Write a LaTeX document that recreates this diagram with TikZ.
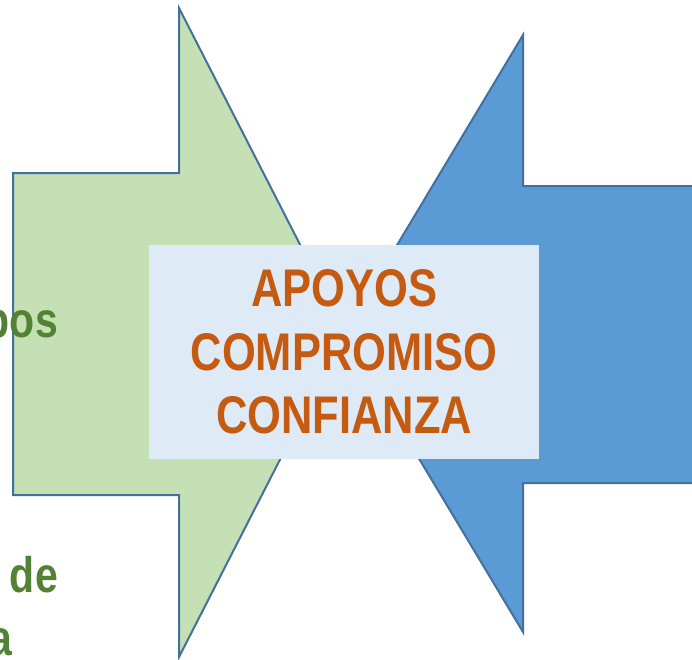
\documentclass[tikz,border=0pt]{standalone}
\usepackage{fontspec}
\setmainfont[FakeStretch=0.82]{Liberation Sans}
\definecolor{leafgreen}{HTML}{C5E0B4}
\definecolor{skyblue}{HTML}{5B9BD5}
\definecolor{edgeblue}{HTML}{41719C}
\definecolor{paleblue}{HTML}{DEEBF7}
\definecolor{rustorange}{HTML}{C55A11}
\definecolor{mossgreen}{HTML}{548235}
\tikzset{
  arrowshape/.style={draw=edgeblue,line width=2pt,line join=miter},
  sidetext/.style={anchor=base east,inner sep=0pt,text=mossgreen,
    font=\fontsize{50}{60}\selectfont\bfseries}
}
\begin{document}
\begin{tikzpicture}[x=1pt,y=-1pt]
  \useasboundingbox (0,0) rectangle (692,659);
  \fill[white] (0,0) rectangle (692,659);
  \filldraw[arrowshape,fill=leafgreen] (13,173) -- (179,173) -- (179,8) -- (345,332.5)
    -- (179,657) -- (179,495) -- (13,495) -- cycle;
  \filldraw[arrowshape,fill=skyblue] (710,186) -- (523,186) -- (523,35) -- (344,333.5)
    -- (523,632) -- (523,483) -- (710,483) -- cycle;
%%%
  \node[fill=paleblue,minimum width=390pt,minimum height=214pt,inner sep=0pt,
    text=rustorange,align=center,font=\fontsize{53}{63.5}\selectfont\bfseries]
    (values) at (344,352) {APOYOS\\COMPROMISO\\CONFIANZA};
%%%
  \node[sidetext] (groups) at (58,337) {pos};
  \node[sidetext] (linkword) at (58,592) {de};
  \node[sidetext] (lastword) at (13,655) {a};
\end{tikzpicture}
\end{document}
